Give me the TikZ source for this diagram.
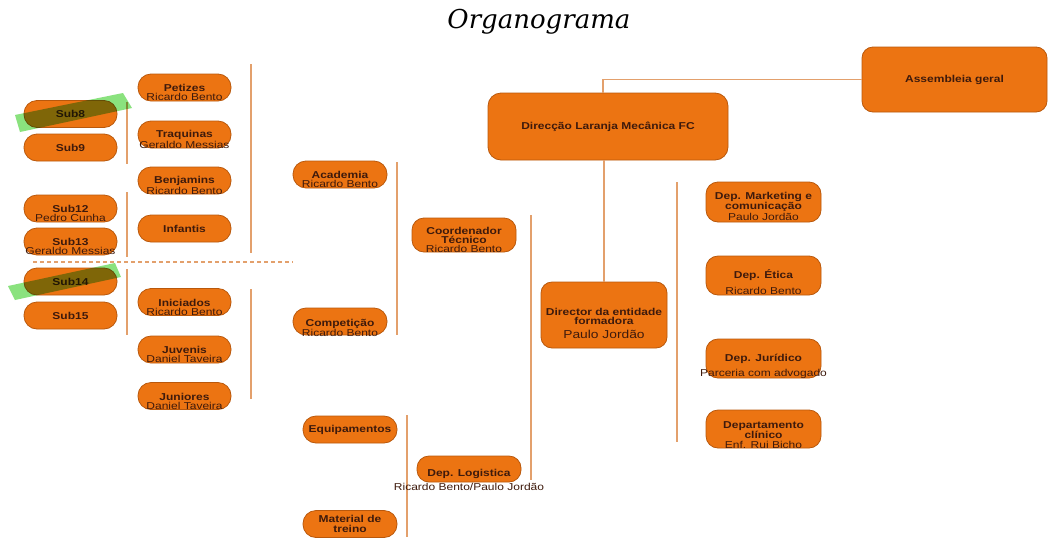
\documentclass[tikz,border=0pt]{standalone}
\usepackage{fontspec}
\setmainfont{Liberation Sans}[FakeStretch=1.2]
\newfontfamily\titlefont{DejaVu Serif}
\usepackage{xcolor}
\usepackage{tikz}

\definecolor{boxfill}{HTML}{EC7412}
\definecolor{boxline}{HTML}{B9580C}
\definecolor{ink}{HTML}{3E1A0C}
\definecolor{barcol}{HTML}{E3A06C}
\definecolor{hlgreen}{HTML}{8AE27E}

\tikzset{
  box/.style={draw=boxline, line width=0.8pt, fill=boxfill, text=ink, inner sep=0pt,
    font=\fontsize{10}{9.5}\selectfont\bfseries, align=center,
    minimum width=93pt, minimum height=27pt, rounded corners=13pt},
  every label/.style={text=ink, align=center, yshift=-5pt,
    font=\fontsize{10}{9}\selectfont},
  bar/.style={draw=barcol, line width=2pt},
  link/.style={draw=barcol, line width=1.5pt},
}

\begin{document}
\begin{tikzpicture}[x=1pt, y=-1pt]
    \fill[white] (0,0) rectangle (1049,544);
    \useasboundingbox (0,0) rectangle (1049,544);

    \node[font=\titlefont\itshape\fontsize{26}{30}\selectfont, anchor=base east] (title) at (634,28) {Organograma};

    % bars
    \draw[bar] (127,102) -- (127,164);
    \draw[bar] (127,192) -- (127,257);
    \draw[bar] (127,269) -- (127,335);
    \draw[bar] (251,64) -- (251,253);
    \draw[bar] (251,289) -- (251,399);
    \draw[bar] (397,162) -- (397,335);
    \draw[bar] (407,415) -- (407,537);
    \draw[bar] (531,215) -- (531,480);
    \draw[bar] (677,182) -- (677,442);
    \draw[barcol, line width=1.2pt, dash pattern=on 4pt off 3pt] (33,262) -- (293,262);

    % escalões
    \node[box] (sub8) at (70.5,114) {Sub8};
    \node[box] (sub9) at (70.5,147.5) {Sub9};
    \node[box, label={center:{\textbf{Sub12}\\Pedro Cunha}}] (sub12) at (70.5,208.5) {};
    \node[box, label={center:{\textbf{Sub13}\\Geraldo Messias}}] (sub13) at (70.5,241.5) {};
    \node[box] (sub14) at (70.5,281.5) {Sub14};
    \node[box] (sub15) at (70.5,315.5) {Sub15};

    \node[box, label={center:{\textbf{Petizes}\\Ricardo Bento}}] (petizes) at (184.5,87.5) {};
    \node[box, label={center:{\textbf{Traquinas}\\Geraldo Messias}}] (traquinas) at (184.5,134.5) {};
    \node[box, label={center:{\textbf{Benjamins}\\Ricardo Bento}}] (benjamins) at (184.5,180.5) {};
    \node[box] (infantis) at (184.5,228.5) {Infantis};
    \node[box, label={center:{\textbf{Iniciados}\\Ricardo Bento}}] (iniciados) at (184.5,302) {};
    \node[box, label={center:{\textbf{Juvenis}\\Daniel Taveira}}] (juvenis) at (184.5,349.5) {};
    \node[box, label={center:{\textbf{Juniores}\\Daniel Taveira}}] (juniores) at (184.5,396) {};

    \node[box, minimum width=94pt, label={center:{\textbf{Academia}\\Ricardo Bento}}] (academia) at (340,174.5) {};
    \node[box, minimum width=94pt, label={[yshift=-1.5pt]center:{\textbf{Competição}\\Ricardo Bento}}] (competicao) at (340,321.5) {};
    \node[box, minimum width=94pt] (equipamentos) at (350,429.5) {Equipamentos};
    \node[box, minimum width=94pt] (material) at (350,524) {Material de\\treino};

    \node[box, minimum width=104pt, minimum height=34pt, rounded corners=12pt,
      label={center:{\textbf{Coordenador}\\\textbf{Técnico}\\Ricardo Bento}}] (coordenador) at (464,235) {};
    \node[box, minimum width=104pt, minimum height=26pt, rounded corners=12pt,
      label={[yshift=-6pt]center:{\textbf{Dep. Logistica}\\[3pt]Ricardo Bento/Paulo Jordão}}] (logistica) at (469,469) {};

    % direcção
    \node[box, minimum width=240pt, minimum height=67pt] (direccao) at (608,126.5) {Direcção Laranja Mecânica FC};
    \node[box, minimum width=185pt, minimum height=65pt, rounded corners=11pt] (assembleia) at (954.5,79.5) {Assembleia geral};
    \node[box, minimum width=126pt, minimum height=66pt, rounded corners=11pt,
      label={[yshift=-3pt]center:{\textbf{Director da entidade}\\\textbf{formadora}\\[5pt]{\fontsize{11.5}{12}\selectfont Paulo Jordão}}}] (director) at (604,315) {};

    % departamentos
    \node[box, minimum width=115pt, minimum height=40pt, rounded corners=12pt,
      label={[yshift=0.5pt]center:{\textbf{Dep. Marketing e}\\\textbf{comunicação}\\[1pt]Paulo Jordão}}] (marketing) at (763.5,202) {};
    \node[box, minimum width=115pt, minimum height=39pt, rounded corners=12pt,
      label={[yshift=-1.5pt]center:{\textbf{Dep. Ética}\\[5pt]Ricardo Bento}}] (etica) at (763.5,275.5) {};
    \node[box, minimum width=115pt, minimum height=39pt, rounded corners=12pt,
      label={[yshift=-3pt]center:{\textbf{Dep. Jurídico}\\[5pt]Parceria com advogado}}] (juridico) at (763.5,358.5) {};
    \node[box, minimum width=115pt, minimum height=38pt, rounded corners=12pt,
      label={[yshift=-1pt]center:{\textbf{Departamento}\\\textbf{clínico}\\[1pt]Enf. Rui Bicho}}] (clinico) at (763.5,429) {};

    \draw[link] ([xshift=-5pt]direccao.north) |- (assembleia.west);
    \draw[link] (director.north |- direccao.south) -- (director.north);

    % marcas
    \begin{scope}[blend mode=multiply]
      \fill[hlgreen] (15,115) -- (123,93) -- (132,108) -- (20,132) -- cycle;
      \fill[hlgreen] (8,286) -- (115,263) -- (121,277) -- (15,300) -- cycle;
    \end{scope}
\end{tikzpicture}
\end{document}
